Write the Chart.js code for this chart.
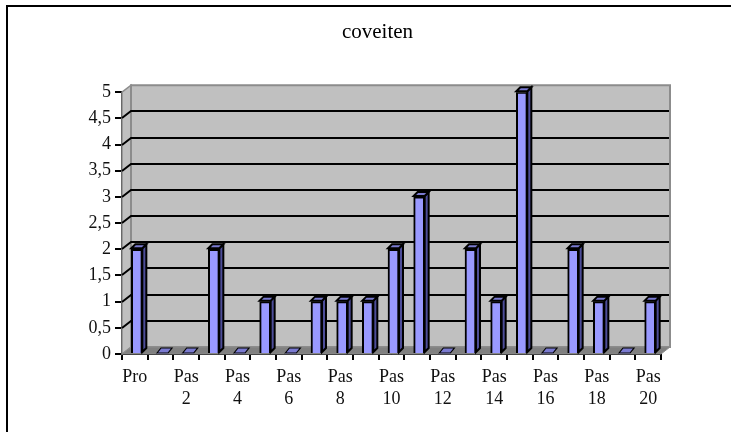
<!DOCTYPE html>
<html>
<head>
<meta charset="utf-8">
<title>coveiten</title>
<script src="https://cdn.jsdelivr.net/npm/chart.js@4"></script>
<style>
  html, body { margin: 0; padding: 0; background: #fff; overflow: hidden; }
  #wrap { position: relative; width: 731px; height: 432px; }
  #frame { position: absolute; left: 6px; top: 5px; right: 0; bottom: 0; border-top: 2px solid #000; border-left: 2px solid #000; }
  canvas { position: absolute; left: 0; top: 0; }
</style>
</head>
<body>
<div id="wrap">
  <div id="frame"></div>
  <canvas id="chart" width="731" height="432"></canvas>
</div>
<script>
// ── Data ──
const chartTitle = 'coveiten';
const categories = ['Pro','Pas 1','Pas 2','Pas 3','Pas 4','Pas 5','Pas 6','Pas 7','Pas 8','Pas 9','Pas 10',
                    'Pas 11','Pas 12','Pas 13','Pas 14','Pas 15','Pas 16','Pas 17','Pas 18','Pas 19','Pas 20'];
const values = [2,0,0,2,0,1,0,1,1,1,2,3,0,2,1,5,0,2,1,0,1];
const xTickLabels = ['Pro','',['Pas','2'],'',['Pas','4'],'',['Pas','6'],'',['Pas','8'],'',['Pas','10'],
                     '',['Pas','12'],'',['Pas','14'],'',['Pas','16'],'',['Pas','18'],'',['Pas','20']];
const yTickLabels = ['0','0,5','1','1,5','2','2,5','3','3,5','4','4,5','5'];

// ── Look ──
const FONT = '"Liberation Serif", "Times New Roman", serif';
const WALL_DX = 9, WALL_DY = 7;    // depth of the back wall
const BAR_DX = 4, BAR_DY = 4;      // depth of one bar
const BAR_SHIFT = 2;               // bars sit a bit right of the category centre
const TITLE_SHIFT = 11;            // title is off-centre in the frame
const WALL = '#c0c0c0', FLOOR = '#808080', EDGE = '#8c8c8c';

function poly(ctx, pts, fill, stroke, lw) {
  ctx.beginPath();
  pts.forEach((p, i) => i ? ctx.lineTo(p[0], p[1]) : ctx.moveTo(p[0], p[1]));
  ctx.closePath();
  if (fill) { ctx.fillStyle = fill; ctx.fill(); }
  if (stroke) { ctx.strokeStyle = stroke; ctx.lineWidth = lw; ctx.stroke(); }
}

// walls, floor and gridlines behind the bars
const wallPlugin = {
  id: 'wall',
  afterLayout(chart) {
    chart.titleBlock.left += TITLE_SHIFT;
    chart.titleBlock.right += TITLE_SHIFT;
  },
  beforeDatasetsDraw(chart) {
    const { ctx, chartArea: a, scales: { y } } = chart;
    const L = a.left, R = a.right, T = a.top, B = a.bottom;
    ctx.save();
    poly(ctx, [[L,T],[L+WALL_DX,T-WALL_DY],[L+WALL_DX,B-WALL_DY],[L,B]], WALL, EDGE, 1.5);
    poly(ctx, [[L+WALL_DX,T-WALL_DY],[R+WALL_DX,T-WALL_DY],[R+WALL_DX,B-WALL_DY],[L+WALL_DX,B-WALL_DY]], WALL, EDGE, 2);
    poly(ctx, [[L,B],[L+WALL_DX,B-WALL_DY],[R+WALL_DX,B-WALL_DY],[R,B]], FLOOR, EDGE, 1);
    ctx.strokeStyle = '#000';
    ctx.lineWidth = 2;
    y.ticks.forEach(t => {
      if (t.value === 0 || t.value === 5) return;
      const py = Math.round(y.getPixelForValue(t.value));
      ctx.beginPath();
      ctx.moveTo(L, py);
      ctx.lineTo(L + WALL_DX, py - WALL_DY);
      ctx.lineTo(R + WALL_DX - 1, py - WALL_DY);
      ctx.stroke();
    });
    ctx.restore();

    // bars: side and top faces first, the library draws the front on top
    ctx.save();
    ctx.translate(BAR_SHIFT, 0);
    chart.getDatasetMeta(0).data.forEach(bar => {
      const x0 = bar.x - bar.width / 2, x1 = bar.x + bar.width / 2, base = bar.base - 1;
      const flat = bar.y >= base;
      const yTop = Math.min(bar.y, base) - 1;
      if (!flat) poly(ctx, [[x1,yTop],[x1+BAR_DX,yTop-BAR_DY],[x1+BAR_DX,base-BAR_DY],[x1,base]], '#4d4d99', '#000', 2);
      poly(ctx, [[x0,yTop+(flat?1:0)],[x0+BAR_DX,yTop-BAR_DY],[x1+BAR_DX,yTop-BAR_DY],[x1,yTop+(flat?1:0)]], '#7a7ad0', '#000', flat ? 1.2 : 2);
    });
  },
  afterDatasetsDraw(chart) {
    chart.ctx.restore();
  }
};

new Chart(document.getElementById('chart'), {
  type: 'bar',
  data: {
    labels: categories,
    datasets: [{
      data: values,
      backgroundColor: '#9999ff',
      borderColor: '#000',
      borderWidth: ctx => (ctx.raw === 0 ? 0 : 2),
      barThickness: 11
    }]
  },
  plugins: [wallPlugin],
  options: {
    responsive: false,
    animation: false,
    layout: { padding: { left: 72, right: 70, top: 0, bottom: 0 } },
    plugins: {
      legend: { display: false },
      tooltip: { enabled: false },
      title: {
        display: true,
        text: chartTitle,
        color: '#000',
        font: { family: FONT, size: 21, weight: 'normal' },
        padding: { top: 20, bottom: 47 }
      }
    },
    scales: {
      x: {
        afterFit: s => { s.height = 78; },
        border: { color: '#000', width: 2 },
        grid: { drawOnChartArea: false, color: '#000', lineWidth: 2, tickLength: 6 },
        ticks: {
          autoSkip: false, maxRotation: 0, minRotation: 0, padding: 6, color: '#111',
          font: { family: FONT, size: 18, lineHeight: 1.25 },
          callback: (v, i) => xTickLabels[i]
        }
      },
      y: {
        min: 0, max: 5,
        afterFit: s => { s.width = 50; },
        border: { color: '#000', width: 2 },
        grid: { drawOnChartArea: false, color: '#000', lineWidth: 2, tickLength: 7 },
        ticks: {
          stepSize: 0.5, padding: 4, color: '#111',
          font: { family: FONT, size: 18 },
          callback: (v, i) => yTickLabels[i]
        }
      }
    }
  }
});
</script>
</body>
</html>
